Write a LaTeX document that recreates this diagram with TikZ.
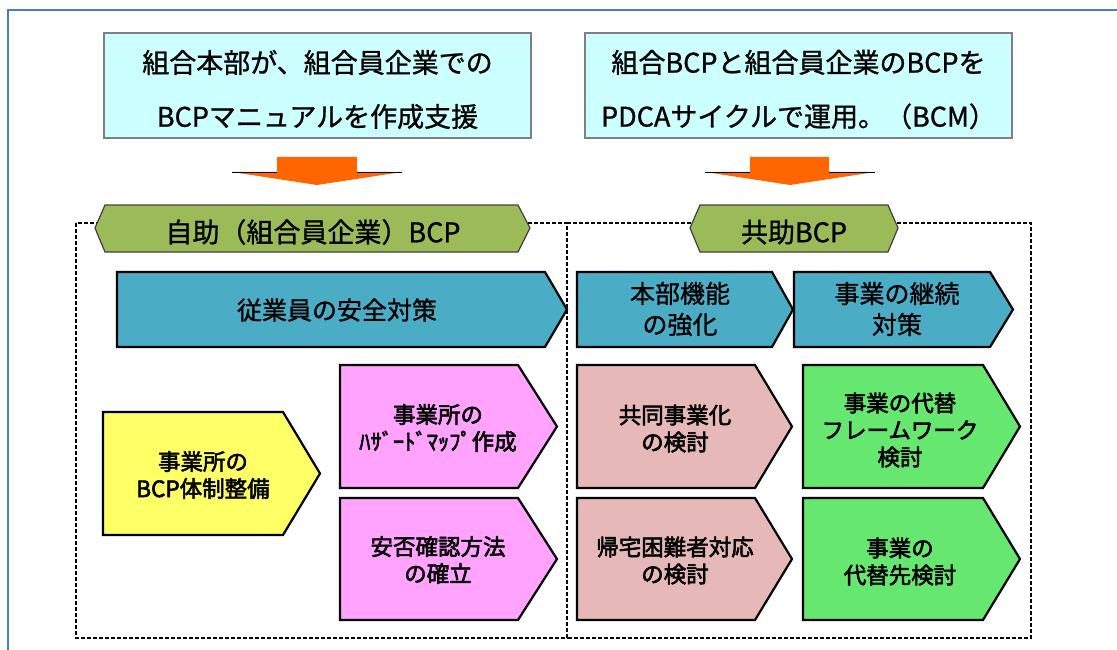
\documentclass[tikz,border=0pt]{standalone}
\usepackage{fontspec}
\setmainfont{Noto Sans CJK JP}
\newfontfamily\jpmed{Noto Sans CJK JP}[FakeBold=2.5]
\newfontfamily\jpsemi{Noto Sans CJK JP}[FakeBold=1]
\definecolor{cyanfill}{HTML}{CCFFFF}
\definecolor{boxgray}{HTML}{7F7F7F}
\definecolor{arroworange}{HTML}{FF6600}
\definecolor{bannergreen}{HTML}{9BBB59}
\definecolor{chevblue}{HTML}{4BACC6}
\definecolor{chevyellow}{HTML}{FFFF66}
\definecolor{chevpink}{HTML}{FFA3FF}
\definecolor{chevrose}{HTML}{E6B9B8}
\definecolor{chevgreen}{HTML}{66E870}
\definecolor{framecol}{HTML}{4A7EBB}
\tikzset{
  topbox/.style={fill=cyanfill, draw=boxgray, line width=2},
  downarrow/.style={fill=arroworange, draw=none},
  wingedge/.style={draw=black, line width=0.8},
  banner/.style={fill=bannergreen, draw=black!75, line width=1.2},
  groupbox/.style={draw=black, line width=2, dash pattern=on 4pt off 2pt},
  chevbox/.style={draw=black, line width=2.2},
  toptext/.style={font=\jpsemi\fontsize{27}{54}\selectfont, align=center, inner sep=0},
  bannertext/.style={font=\jpsemi\fontsize{27}{32}\selectfont, align=center, inner sep=0},
  bluetext/.style={font=\jpsemi\fontsize{25}{31}\selectfont, align=center, inner sep=0},
  lowtext/.style={font=\jpmed\fontsize{22.5}{27}\selectfont, align=center, inner sep=0},
}
\newcommand{\mychev}[6]{%
  \draw[chevbox,#1] (#2,#3) -- (#4,#3) -- (#5,{(#3+#6)/2}) -- (#4,#6) -- (#2,#6) -- cycle;}
\begin{document}
\begin{tikzpicture}[x=1pt,y=-1pt]
\useasboundingbox (0,0) rectangle (1117,650);
% outer frame
\draw[framecol, line width=2] (8,650) -- (8,10) -- (1117,10);
% top boxes
\draw[topbox] (104,33) rectangle (531,138);
\draw[topbox] (585,33) rectangle (1012,138);
\node[toptext] (t1) at (317.5,89.5) {組合本部が、組合員企業での\\BCPマニュアルを作成支援};
\node[toptext] (t2) at (798.5,89.5) {組合BCPと組合員企業のBCPを\\PDCAサイクルで運用。（BCM）};
% arrows
\fill[downarrow] (277,157) -- (357,157) -- (357,172) -- (402,172) -- (317,185) -- (232,172) -- (277,172) -- cycle;
\draw[wingedge] (232,172) -- (277,172) (357,172) -- (402,172);
\fill[downarrow] (750,157) -- (829,157) -- (829,172) -- (875,172) -- (790,185) -- (705,172) -- (750,172) -- cycle;
\draw[wingedge] (705,172) -- (750,172) (829,172) -- (875,172);
% dashed group boxes
\draw[groupbox] (76,223) rectangle (567,638);
\draw[groupbox] (567,223) -- (1031,223) -- (1031,638) -- (567,638);
% banners
\draw[banner] (95,228) -- (105,205) -- (518,205) -- (530,228) -- (518,252) -- (105,252) -- cycle;
\draw[banner] (690,228) -- (700,205) -- (888,205) -- (898,228) -- (888,252) -- (700,252) -- cycle;
\node[bannertext] (b1) at (313,232) {自助（組合員企業）BCP};
\node[bannertext] (b2) at (794,232) {共助BCP};
% blue chevrons
\mychev{fill=chevblue}{117}{272}{545}{567}{347}
\mychev{fill=chevblue}{577}{272}{772}{793}{347}
\mychev{fill=chevblue}{794}{272}{990}{1013}{347}
\node[bluetext] (c1) at (337,310) {従業員の安全対策};
\node[bluetext] (c2) at (680,309) {本部機能\\の強化};
\node[bluetext] (c3) at (897,309) {事業の継続\\対策};
% lower chevrons
\mychev{fill=chevyellow}{103}{412}{283}{320}{535}
\mychev{fill=chevpink}{340}{365}{518}{557}{488}
\mychev{fill=chevpink}{340}{498}{518}{557}{620}
\mychev{fill=chevrose}{577}{365}{755}{792}{488}
\mychev{fill=chevrose}{577}{498}{755}{792}{620}
\mychev{fill=chevgreen}{803}{365}{983}{1020}{488}
\mychev{fill=chevgreen}{803}{498}{983}{1020}{620}
\node[lowtext] (y1) at (203,475) {事業所の\\BCP体制整備};
\node[lowtext] (p1) at (438,428) {事業所の\\ﾊｻﾞｰﾄﾞﾏｯﾌﾟ作成};
\node[lowtext] (p2) at (438,560) {安否確認方法\\の確立};
\node[lowtext] (r1) at (675,428.5) {共同事業化\\の検討};
\node[lowtext] (r2) at (675,560.5) {帰宅困難者対応\\の検討};
\node[lowtext] (g1) at (900,430) {事業の代替\\フレームワーク\\検討};
\node[lowtext] (g2) at (900,561.5) {事業の\\代替先検討};
\end{tikzpicture}
\end{document}
